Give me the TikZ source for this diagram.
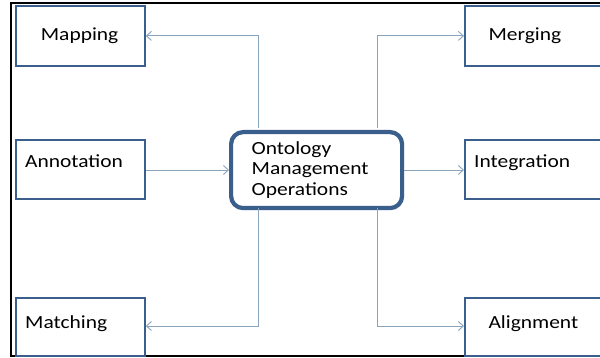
\documentclass[tikz,border=0pt]{standalone}
\usepackage{fontspec}
\setmainfont{Carlito}[FakeStretch=1.16]
\usetikzlibrary{arrows.meta}
\definecolor{boxblue}{HTML}{3A5F8C}
\definecolor{linkblue}{HTML}{8AA4BE}
\tikzset{
  opbox/.style={draw=boxblue, line width=1.8pt, fill=white, anchor=north west, inner sep=0pt},
  centerbox/.style={draw=boxblue, line width=4.2pt, rounded corners=12pt, fill=white, anchor=north west, inner sep=0pt},
  lbl/.style={anchor=base west, inner sep=0pt, font=\fontsize{18.5}{21}\selectfont},
  link/.style={draw=linkblue, line width=0.9pt, -{Straight Barb[length=5pt,width=9pt,line width=0.9pt]}},
  frameline/.style={draw=black, line width=2pt}
}
\begin{document}
\begin{tikzpicture}[x=1pt,y=-1pt]
\useasboundingbox (0,0) rectangle (600,358);
\clip (0,0) rectangle (600,358);
\fill[white] (0,0) rectangle (600,358);
\draw[frameline] (602,3) -- (11,3) -- (11,356) -- (602,356);
% boxes
\node[opbox, minimum width=129pt, minimum height=60pt] (mapping) at (15,5) {};
\node[opbox, minimum width=129pt, minimum height=59pt] (annotation) at (15,139) {};
\node[opbox, minimum width=129pt, minimum height=58pt] (matching) at (15,297) {};
\node[opbox, minimum width=145pt, minimum height=60pt] (merging) at (464,5) {};
\node[opbox, minimum width=145pt, minimum height=59pt] (integration) at (464,139) {};
\node[opbox, minimum width=145pt, minimum height=58pt] (alignment) at (464,297) {};
\node[centerbox, minimum width=171pt, minimum height=76pt] (omo) at (229,130) {};
% labels
\node[lbl] (tmapping) at (40.7,41) {Mapping};
\node[lbl] (tannotation) at (25,168) {Annotation};
\node[lbl] (tmatching) at (25,328.5) {Matching};
\node[lbl] (tmerging) at (488.3,41) {Merging};
\node[lbl] (tintegration) at (474,168) {Integration};
\node[lbl] (talignment) at (488.3,328.5) {Alignment};
\node[lbl] (tomo1) at (251.5,154.5) {Ontology};
\node[lbl] (tomo2) at (251.5,175) {Management};
\node[lbl] (tomo3) at (251.5,195.5) {Operations};
% connectors
\coordinate (ctl) at (258,128);
\coordinate (ctr) at (377,128);
\coordinate (cbl) at (258,208);
\coordinate (cbr) at (377,208);
\draw[link] (ctl) |- (mapping.east);
\draw[link] (ctr) |- (merging.west);
\draw[link] (cbl) |- (matching.east |- 0,326);
\draw[link] (cbr) |- (alignment.west |- 0,326);
\draw[link] (annotation.east |- 0,170) -- (omo.west |- 0,170);
\draw[link] (omo.east |- 0,170) -- (integration.west |- 0,170);
\end{tikzpicture}
\end{document}
